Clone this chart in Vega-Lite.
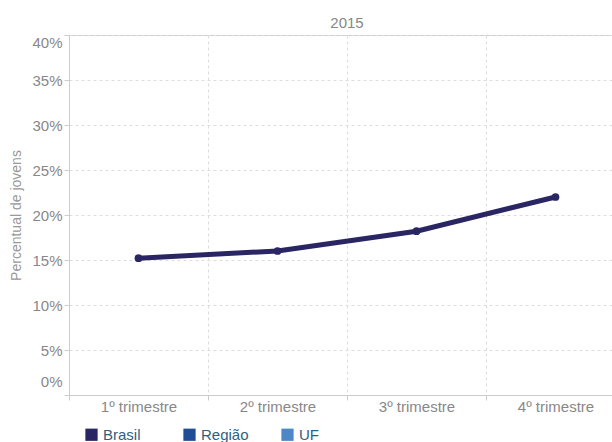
{
  "$schema": "https://vega.github.io/schema/vega-lite/v6.json",
  "width": 556,
  "height": 360,
  "autosize": "none",
  "padding": {"left": 69, "top": 35, "right": 0, "bottom": 47},
  "background": "white",
  "title": {"text": "2015", "fontSize": 15, "fontWeight": "normal", "color": "#888888", "anchor": "middle", "offset": 4},
  "data": {
    "values": [
      {"trimestre": "1º trimestre", "serie": "Brasil", "valor": 15.2},
      {"trimestre": "2º trimestre", "serie": "Brasil", "valor": 16.0},
      {"trimestre": "3º trimestre", "serie": "Brasil", "valor": 18.2},
      {"trimestre": "4º trimestre", "serie": "Brasil", "valor": 22.0}
    ]
  },
  "mark": {"type": "line", "strokeWidth": 5, "point": {"filled": true, "size": 60}},
  "encoding": {
    "x": {
      "field": "trimestre",
      "type": "nominal",
      "sort": ["1º trimestre", "2º trimestre", "3º trimestre", "4º trimestre"],
      "scale": {"paddingInner": 0, "paddingOuter": 0},
      "axis": {
        "title": null,
        "labelAngle": 0,
        "tickBand": "extent",
        "grid": true,
        "gridDash": [3, 3],
        "gridColor": "#dddddd",
        "domainColor": "#cccccc",
        "tickColor": "#cccccc",
        "tickSize": 5,
        "labelPadding": -1,
        "labelFontSize": 15,
        "labelColor": "#888888"
      }
    },
    "y": {
      "field": "valor",
      "type": "quantitative",
      "scale": {"domain": [0, 40], "nice": false},
      "axis": {
        "title": "Percentual de jovens",
        "titleFontSize": 14,
        "titleFontWeight": "normal",
        "titleColor": "#999999",
        "titlePadding": 8,
        "values": [0, 5, 10, 15, 20, 25, 30, 35, 40],
        "labelExpr": "datum.value + '%'",
        "labelFontSize": 15,
        "labelColor": "#888888",
        "labelPadding": 2,
        "labelFlush": true,
        "labelOffset": {"condition": {"test": "datum.value === 0", "value": -6}, "value": 0},
        "grid": true,
        "gridDash": [3, 3],
        "gridColor": "#dddddd",
        "domainColor": "#cccccc",
        "tickColor": "#cccccc",
        "tickSize": 5
      }
    },
    "color": {
      "field": "serie",
      "type": "nominal",
      "scale": {"domain": ["Brasil", "Região", "UF"], "range": ["#2a2563", "#1f4e96", "#4d87c7"]},
      "legend": {
        "title": null,
        "orient": "none",
        "legendX": 15,
        "legendY": 392,
        "direction": "horizontal",
        "gridAlign": "all",
        "columnPadding": 31,
        "symbolType": "square",
        "symbolSize": 150,
        "symbolStrokeWidth": 0,
        "labelFontSize": 15,
        "labelColor": "#2f5f7f",
        "labelOffset": 4,
        "padding": 0
      }
    }
  },
  "config": {
    "font": "Liberation Sans",
    "view": {"stroke": "#cccccc"}
  }
}
